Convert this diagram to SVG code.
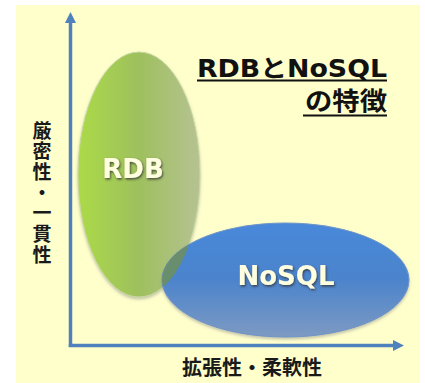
<svg xmlns="http://www.w3.org/2000/svg" width="425" height="383" viewBox="0 0 425 383">
  <style>
    .axis { stroke: #4F81BD; stroke-width: 3.5; fill: none; }
    .head { fill: #4F81BD; }
    .lbl { font-family: "Noto Sans CJK JP", "DejaVu Sans", sans-serif; font-weight: bold; font-size: 19px; fill: #1a1a1a; }
    .title { font-family: "DejaVu Sans", "Noto Sans CJK JP", sans-serif; font-weight: bold; font-size: 24px; fill: #111; }
    .big { font-family: "DejaVu Sans", "Noto Sans CJK JP", sans-serif; font-weight: bold; font-size: 26px; fill: #FFFFE0; text-anchor: middle; filter: url(#tshadow); }
    .ul { stroke: #111; stroke-width: 2; }
  </style>
  <defs>
    <linearGradient id="gGreen" x1="0" y1="0" x2="1" y2="0">
      <stop offset="0" stop-color="#ABDA48"/>
      <stop offset="0.5" stop-color="#9EC05E"/>
      <stop offset="1" stop-color="#B6C292"/>
    </linearGradient>
    <linearGradient id="gBlue" x1="0" y1="0" x2="0" y2="1">
      <stop offset="0" stop-color="#4888DA"/>
      <stop offset="0.5" stop-color="#4C84CC"/>
      <stop offset="1" stop-color="#7D9AC2"/>
    </linearGradient>
    <filter id="soft" x="-10%" y="-10%" width="120%" height="125%">
      <feDropShadow dx="0" dy="2" stdDeviation="1.5" flood-color="#888" flood-opacity="0.5"/>
    </filter>
    <filter id="tshadow" x="-10%" y="-20%" width="120%" height="150%">
      <feDropShadow dx="1" dy="1.5" stdDeviation="0.8" flood-color="#333" flood-opacity="0.8"/>
    </filter>
    <clipPath id="clipBlue">
      <ellipse cx="285.5" cy="280" rx="123.5" ry="57"/>
    </clipPath>
  </defs>

  <rect x="16" y="5" width="404" height="378" fill="#FFFFCC"/>

  <g id="connectors">
    <line class="axis" x1="70.5" y1="347" x2="70.5" y2="21"/>
    <polygon class="head" points="70.5,12 65,23 76,23"/>
    <line class="axis" x1="68.8" y1="345.5" x2="394" y2="345.5"/>
    <polygon class="head" points="404,345.5 393,340 393,351"/>
  </g>

  <g id="rdb">
    <ellipse cx="139" cy="174.5" rx="61" ry="122.5" fill="url(#gGreen)" stroke="#C8D8A0" stroke-width="1" filter="url(#soft)"/>
  </g>

  <g id="nosql">
    <ellipse cx="285.5" cy="280" rx="123.5" ry="57" fill="url(#gBlue)" stroke="#6E94C8" stroke-width="1" filter="url(#soft)"/>
    <ellipse cx="139" cy="174.5" rx="61" ry="122.5" fill="#6C8F62" opacity="0.9" clip-path="url(#clipBlue)"/>
  </g>

  <text class="big" x="133" y="178">RDB</text>
  <text class="big" x="286" y="285">NoSQL</text>

  <g id="title">
    <text class="title" x="197" y="77" textLength="190" lengthAdjust="spacingAndGlyphs">RDBとNoSQL</text>
    <line class="ul" x1="197" y1="80.5" x2="387" y2="80.5"/>
    <text class="title" x="305" y="110" style="font-size:25px" textLength="82" lengthAdjust="spacingAndGlyphs">の特徴</text>
    <line class="ul" x1="303" y1="115.5" x2="387" y2="115.5"/>
  </g>

  <g id="y-label">
    <text class="lbl" x="42" y="121" style="writing-mode: vertical-rl; text-orientation: upright;" textLength="143" lengthAdjust="spacing">厳密性・一貫性</text>
  </g>

  <g id="x-label">
    <text class="lbl" x="252" y="375" text-anchor="middle" style="font-size:20px">拡張性・柔軟性</text>
  </g>
</svg>
